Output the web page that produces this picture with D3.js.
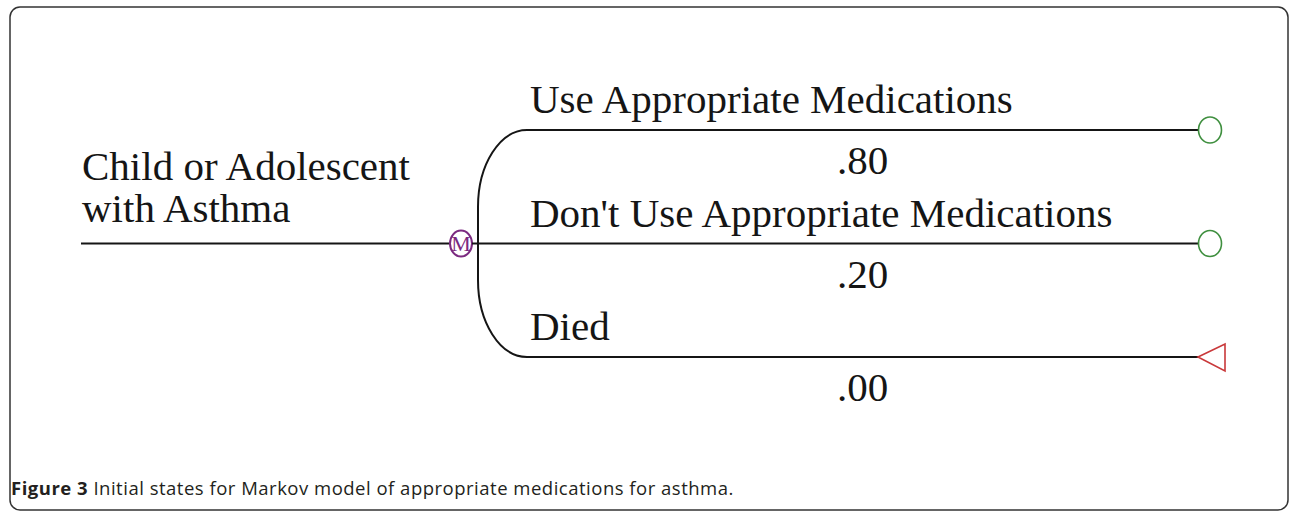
<!DOCTYPE html>
<html>
<head>
<meta charset="utf-8">
<script src="https://cdn.jsdelivr.net/npm/d3@7"></script>
<style>
  html, body { margin: 0; padding: 0; background: #fff; }
  svg { display: block; }
</style>
</head>
<body>
<svg id="chart" width="1290" height="511"></svg>
<script>
// ---- data ----
const rootLabel = ["Child or Adolescent", "with Asthma"];
const branchNames = ["Use Appropriate Medications", "Don't Use Appropriate Medications", "Died"];
const branchProbs = [0.80, 0.20, 0.00];
const terminalTypes = ["markov", "markov", "terminal"];
const captionBold = "Figure 3";
const captionText = " Initial states for Markov model of appropriate medications for asthma.";

// ---- layout ----
const svg = d3.select("#chart");

// frame
svg.append("rect")
  .attr("x", 10).attr("y", 7)
  .attr("width", 1278).attr("height", 503)
  .attr("rx", 10).attr("ry", 10)
  .attr("fill", "none").attr("stroke", "#333").attr("stroke-width", 1.5);

const idx = d3.range(branchNames.length);
const y = d3.scaleLinear().domain([0, branchNames.length - 1]).range([130, 357]);
const x = d3.scaleLinear().domain([0, 1]).range([527, 1198]); // branch span

const rootY = y(1);
const nodeX = 461, splitX = 478;
const ink = "#151515";
const serif = "'Liberation Serif', 'Times New Roman', serif";
const fs = 41;

// root line
svg.append("line")
  .attr("x1", 81).attr("x2", nodeX - 11)
  .attr("y1", rootY).attr("y2", rootY)
  .attr("stroke", ink).attr("stroke-width", 2);

// root label
svg.append("g").selectAll("text").data(rootLabel).join("text")
  .attr("x", 82).attr("y", (d, i) => 180 + i * 42)
  .attr("font-family", serif).attr("font-size", fs).attr("fill", ink)
  .text(d => d);

// markov node
svg.append("ellipse")
  .attr("cx", nodeX).attr("cy", rootY).attr("rx", 11).attr("ry", 13)
  .attr("fill", "#fff").attr("stroke", "#7b2a80").attr("stroke-width", 2);
svg.append("text")
  .attr("x", nodeX).attr("y", rootY + 7.5)
  .attr("text-anchor", "middle")
  .attr("font-family", serif).attr("font-size", 22).attr("fill", "#7b2a80")
  .text("M");

// short connector from node to split
svg.append("line")
  .attr("x1", nodeX + 11).attr("x2", splitX)
  .attr("y1", rootY).attr("y2", rootY)
  .attr("stroke", ink).attr("stroke-width", 2);

// branch connector: quarter-ellipse curves
const topY = y(0), botY = y(branchNames.length - 1);
const rx = x(0) - splitX;
const ry = 77;
const k = 0.5523;
const connector = d3.path();
connector.moveTo(x(0), topY);
connector.bezierCurveTo(x(0) - rx * k, topY, splitX, topY + ry - ry * k, splitX, topY + ry);
connector.lineTo(splitX, botY - ry);
connector.bezierCurveTo(splitX, botY - ry + ry * k, x(0) - rx * k, botY, x(0), botY);
svg.append("path")
  .attr("d", connector.toString())
  .attr("fill", "none").attr("stroke", ink).attr("stroke-width", 2);

// branch lines
const branches = svg.append("g").selectAll("g").data(idx).join("g");
branches.append("line")
  .attr("x1", i => (i === 1 ? splitX : x(0)))
  .attr("x2", x(1))
  .attr("y1", i => y(i)).attr("y2", i => y(i))
  .attr("stroke", ink).attr("stroke-width", 2);

branches.append("text")
  .attr("x", x(0) + 3).attr("y", i => y(i) - 17)
  .attr("font-family", serif).attr("font-size", fs).attr("fill", ink)
  .text(i => branchNames[i]);

const probFmt = v => d3.format(".2f")(v).replace(/^0/, "");
branches.append("text")
  .attr("x", x(0.5)).attr("y", i => y(i) + 44)
  .attr("text-anchor", "middle")
  .attr("font-family", serif).attr("font-size", fs).attr("fill", ink)
  .text(i => probFmt(branchProbs[i]));

// terminal symbols
branches.filter(i => terminalTypes[i] === "markov").append("ellipse")
  .attr("cx", x(1) + 12).attr("cy", i => y(i)).attr("rx", 11.5).attr("ry", 13)
  .attr("fill", "#fff").attr("stroke", "#3f8f3f").attr("stroke-width", 1.6);

branches.filter(i => terminalTypes[i] === "terminal").append("path")
  .attr("d", i => {
    const p = d3.path();
    p.moveTo(x(1), y(i));
    p.lineTo(x(1) + 27, y(i) - 13);
    p.lineTo(x(1) + 27, y(i) + 14);
    p.closePath();
    return p.toString();
  })
  .attr("fill", "#fff").attr("stroke", "#c9383a").attr("stroke-width", 1.6);

// caption
const cap = svg.append("text")
  .attr("x", 11).attr("y", 495)
  .attr("font-family", "'Open Sans', 'Noto Sans', sans-serif")
  .attr("font-size", 18.5).attr("letter-spacing", 0.5).attr("fill", "#231f20");
cap.append("tspan").attr("font-weight", 700).text(captionBold);
cap.append("tspan").text(captionText);
</script>
</body>
</html>
